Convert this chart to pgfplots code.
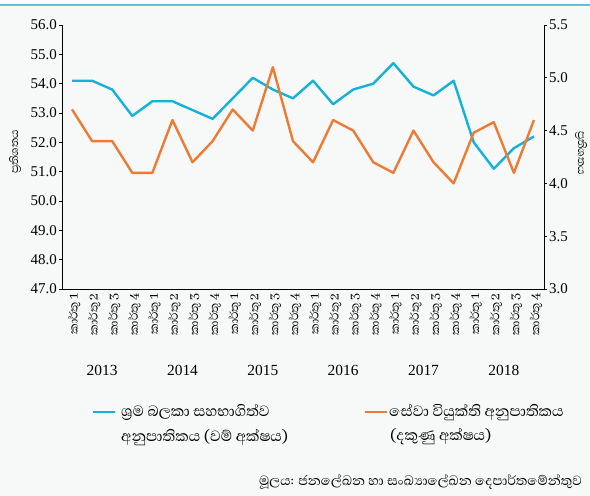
\documentclass[border=0pt]{standalone}
\usepackage{pgfplots}
\pgfplotsset{compat=1.18}
\usepackage{fontspec}
\setmainfont{Liberation Serif}
\newfontfamily\numfont{Liberation Serif}
\newfontfamily\sinhfont[Script=Sinhala]{Abhaya Libre}
\definecolor{bgcol}{HTML}{F7F9F9}
\definecolor{topline}{HTML}{5BC3D8}
\definecolor{lfpr}{HTML}{14B2DA}
\definecolor{unemp}{HTML}{EE7B33}
\begin{document}
\begin{tikzpicture}[x=1bp,y=1bp]
\fill[bgcol] (0,0) rectangle (590,496);
\fill[white] (0,489) rectangle (590,496);
\draw[topline, line width=2bp] (0,491) -- (590,491);
\begin{axis}[
  at={(62bp,207bp)}, anchor=south west,
  scale only axis, width=482bp, height=264bp,
  xmin=-0.5, xmax=23.5, ymin=47, ymax=56,
  axis y line*=left, axis x line*=bottom,
  axis line style={black, line width=0.8bp, -},
  tick align=outside,
  ytick={47,48,...,56},
  xtick={0,1,...,23},
  major tick length=3bp,
  x tick style={draw=none},
  y tick style={black, line width=0.8bp},
  extra x ticks={-0.5,0.5,...,23.5},
  extra x tick labels={},
  extra x tick style={major tick length=55bp, tick style={draw=gray!80!black, line width=0.6bp}},
  xticklabels={කාර්තු 1,කාර්තු 2,කාර්තු 3,කාර්තු 4,කාර්තු 1,කාර්තු 2,කාර්තු 3,කාර්තු 4,කාර්තු 1,කාර්තු 2,කාර්තු 3,කාර්තු 4,කාර්තු 1,කාර්තු 2,කාර්තු 3,කාර්තු 4,කාර්තු 1,කාර්තු 2,කාර්තු 3,කාර්තු 4,කාර්තු 1,කාර්තු 2,කාර්තු 3,කාර්තු 4},
  x tick label style={rotate=90, anchor=east, font=\sinhfont\fontsize{15}{15}\selectfont, inner sep=1bp, yshift=-2bp},
  y tick label style={font=\numfont\fontsize{15}{15}\selectfont, inner sep=2bp},
  /pgf/number format/.cd, fixed, fixed zerofill, precision=1, assume math mode=true,
  /pgfplots/.cd,
  clip=false,
]
\addplot[lfpr, line width=2.4bp, line join=round] coordinates {
 (0,54.1) (1,54.1) (2,53.8) (3,52.9)
 (4,53.4) (5,53.4) (6,53.1) (7,52.8)
 (8,53.5) (9,54.2) (10,53.8) (11,53.5)
 (12,54.1) (13,53.3) (14,53.8) (15,54.0)
 (16,54.7) (17,53.9) (18,53.6) (19,54.1)
 (20,52.0) (21,51.1) (22,51.8) (23,52.2)};
\foreach \yr/\xx in {2013/1.5,2014/5.5,2015/9.5,2016/13.5,2017/17.5,2018/21.5}{
  \edef\tmp{\noexpand\node[font=\noexpand\numfont\noexpand\fontsize{15.5}{15.5}\noexpand\selectfont] at ([yshift=-81bp]axis cs:\xx,47) {\yr};}\tmp
}
\end{axis}
\begin{axis}[
  at={(62bp,207bp)}, anchor=south west,
  scale only axis, width=482bp, height=264bp,
  xmin=-0.5, xmax=23.5, ymin=3, ymax=5.5,
  axis y line*=right, axis x line=none,
  axis line style={black, line width=0.8bp, -},
  tick align=outside,
  ytick={3,3.5,...,5.5},
  major tick length=3bp,
  y tick style={black, line width=0.8bp},
  y tick label style={font=\numfont\fontsize{15}{15}\selectfont, inner sep=2bp},
  /pgf/number format/.cd, fixed, fixed zerofill, precision=1, assume math mode=true,
  /pgfplots/.cd,
]
\addplot[unemp, line width=2.4bp, line join=round] coordinates {
 (0,4.7) (1,4.4) (2,4.4) (3,4.1)
 (4,4.1) (5,4.6) (6,4.2) (7,4.4)
 (8,4.7) (9,4.5) (10,5.1) (11,4.4)
 (12,4.2) (13,4.6) (14,4.5) (15,4.2)
 (16,4.1) (17,4.5) (18,4.2) (19,4.0)
 (20,4.48) (21,4.58) (22,4.1) (23,4.6)};
\end{axis}
% axis titles
\node[rotate=90, font=\sinhfont\fontsize{14}{14}\selectfont] at (15,344) {ප්^^^^200dරතිශතය};
\node[rotate=-90, font=\sinhfont\fontsize{14}{14}\selectfont] at (581,343) {ප්^^^^200dරතිශතය};
% legend
\draw[lfpr, line width=2.4bp] (93,84) -- (115,84);
\node[anchor=west, inner sep=0pt, font=\sinhfont\fontsize{19}{19}\selectfont] at (121,84) {ශ්^^^^200dරම බලකා සහභාගිත්ව};
\node[anchor=west, inner sep=0pt, font=\sinhfont\fontsize{19}{19}\selectfont] at (121,59) {අනුපාතිකය (වම් අක්ෂය)};
\draw[unemp, line width=2.4bp] (365,84) -- (387,84);
\node[anchor=west, inner sep=0pt, font=\sinhfont\fontsize{19}{19}\selectfont] at (389,84) {සේවා වියුක්ති අනුපාතිකය};
\node[anchor=west, inner sep=0pt, font=\sinhfont\fontsize{19}{19}\selectfont] at (390,59) {(දකුණු අක්ෂය)};
% source
\node[anchor=east, inner sep=0pt, font=\sinhfont\fontsize{17}{17}\selectfont] at (582,14) {මූලය: ජනලේඛන හා සංඛ්^^^^200dයාලේඛන දෙපාර්තමේන්තුව};
\pgfresetboundingbox
\useasboundingbox (0,0) rectangle (590,496);
\end{tikzpicture}
\end{document}
